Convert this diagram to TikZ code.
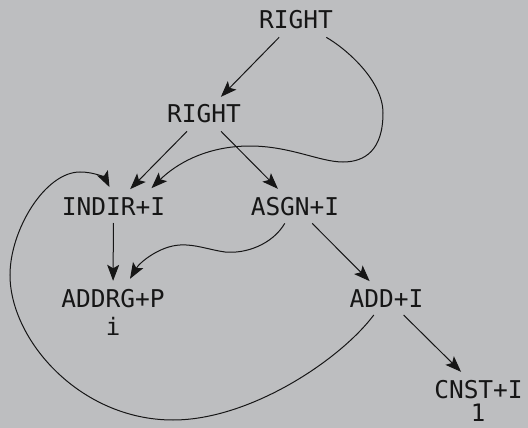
\documentclass[tikz,border=0pt]{standalone}
\usepackage{fontspec}
\setmonofont{DejaVu Sans Mono}
\usetikzlibrary{arrows.meta}
\definecolor{bg}{RGB}{189,190,192}
\definecolor{ink}{RGB}{22,22,22}
\tikzset{
  lbl/.style={font=\ttfamily\fontsize{24.5}{24.5}\selectfont, text=ink, inner sep=2pt, outer sep=6pt, anchor=base},
  sub/.style={font=\ttfamily\fontsize{24}{24}\selectfont, text=ink, inner sep=0pt, anchor=base},
  arr/.style={draw=ink, line width=1pt, -{Stealth[length=16pt,width=12pt,inset=3.5pt]}},
}
\begin{document}
\begin{tikzpicture}[x=1pt,y=-1pt]
\fill[bg] (0,0) rectangle (528,428);
\useasboundingbox (0,0) rectangle (528,428);
\node[lbl] (r1) at (296,29) {RIGHT};
\node[lbl] (r2) at (204,123) {RIGHT};
\node[lbl] (indir) at (113.5,215) {INDIR+I};
\node[lbl] (asgn) at (295,215) {ASGN+I};
\node[lbl] (addrg) at (113,307) {ADDRG+P};
\node[sub] (ivar) at (113,335) {i};
\node[lbl] (add) at (386.5,307) {ADD+I};
\node[lbl] (cnst) at (478.5,398) {CNST+I};
\node[sub] (one) at (478,421) {1};
\coordinate (inA) at ([xshift=-4pt,yshift=2pt]indir.north);
\coordinate (inC) at ([xshift=38pt,yshift=1pt]indir.north);
\coordinate (adA) at ([xshift=17pt,yshift=2pt]addrg.north);
\draw[arr] (r1) -- (r2);
\draw[arr] (r2) -- (indir);
\draw[arr] (r2) -- (asgn);
\draw[arr] (indir) -- (addrg);
\draw[arr] (asgn) -- (add);
\draw[arr] (add) -- (cnst);
\draw[arr] (r1) .. controls (345,48) and (383,80) .. (383,113)
  .. controls (383,150) and (365,162) .. (343,162)
  .. controls (320,162) and (290,146) .. (250,146)
  .. controls (205,146) and (175,165) .. (inC);
\draw[arr] (asgn) .. controls (272,245) and (245,254) .. (225,252)
  .. controls (210,250) and (195,244) .. (180,245)
  .. controls (160,246) and (140,262) .. (adA);
\draw[arr] (add) .. controls (340,360) and (250,420) .. (173,420)
  .. controls (80,420) and (10,340) .. (10,275)
  .. controls (10,230) and (45,172) .. (80,172)
  .. controls (95,172) and (105,178) .. (inA);
\end{tikzpicture}
\end{document}
